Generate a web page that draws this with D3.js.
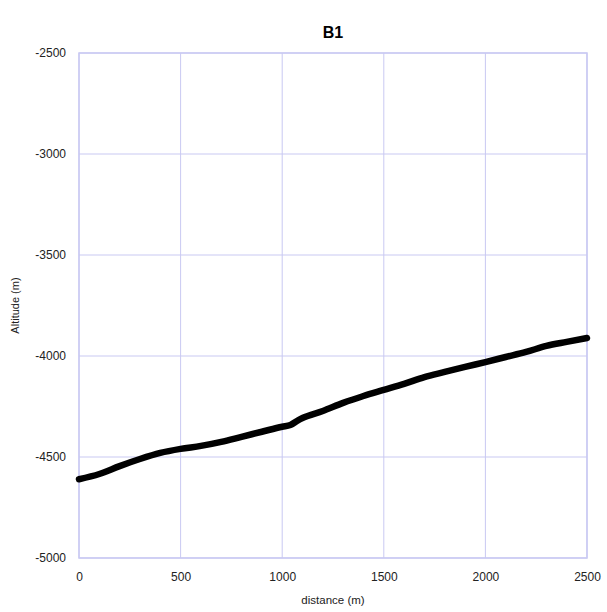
<!DOCTYPE html>
<html>
<head>
<meta charset="utf-8">
<script src="https://cdn.jsdelivr.net/npm/d3@7"></script>
<style>
  body { margin: 0; background: #fff; }
  text { font-family: "Liberation Sans", Arial, sans-serif; }
</style>
</head>
<body>
<svg id="chart" width="607" height="612"></svg>
<script>
  const distance = [0, 100, 200, 300, 400, 500, 600, 700, 800, 900, 1000, 1040, 1080, 1100,
    1200, 1300, 1400, 1500, 1600, 1700, 1800, 1900, 2000, 2100, 2200, 2300, 2400, 2500];
  const altitude = [-4610, -4584, -4545, -4510, -4480, -4460, -4445, -4425, -4400, -4375, -4350, -4342, -4317, -4307,
    -4272, -4232, -4198, -4168, -4138, -4104, -4079, -4054, -4030, -4005, -3980, -3950, -3930, -3911];
  const xTicks = [0, 500, 1000, 1500, 2000, 2500];
  const yTicks = [-5000, -4500, -4000, -3500, -3000, -2500];

  const svg = d3.select("#chart");
  const m = { left: 79, right: 587, top: 53, bottom: 558 };
  const gridColor = "#c9c9f2";
  const fmt = (d) => String(d);

  const x = d3.scaleLinear().domain([0, 2500]).range([m.left, m.right]);
  const y = d3.scaleLinear().domain([-5000, -2500]).range([m.bottom, m.top]);

  // grid
  svg.append("g").selectAll("line").data(xTicks).join("line")
    .attr("x1", (d) => x(d)).attr("x2", (d) => x(d))
    .attr("y1", m.top).attr("y2", m.bottom)
    .attr("stroke", gridColor).attr("stroke-width", 1);
  svg.append("g").selectAll("line").data(yTicks).join("line")
    .attr("x1", m.left).attr("x2", m.right)
    .attr("y1", (d) => y(d)).attr("y2", (d) => y(d))
    .attr("stroke", gridColor).attr("stroke-width", 1);

  svg.append("rect")
    .attr("x", m.left).attr("y", m.top)
    .attr("width", m.right - m.left).attr("height", m.bottom - m.top)
    .attr("fill", "none").attr("stroke", gridColor).attr("stroke-width", 1.5);

  // tick labels
  const xAxis = d3.axisBottom(x).tickValues(xTicks).tickFormat(fmt).tickSize(0).tickPadding(14);
  svg.append("g").attr("transform", `translate(0,${m.bottom})`).call(xAxis)
    .call((g) => g.select(".domain").remove())
    .selectAll("text").attr("font-size", 12).attr("fill", "#222")
    .attr("font-family", "Liberation Sans, Arial, sans-serif");

  const yAxis = d3.axisLeft(y).tickValues(yTicks).tickFormat(fmt).tickSize(0).tickPadding(13);
  svg.append("g").attr("transform", `translate(${m.left},0)`).call(yAxis)
    .call((g) => g.select(".domain").remove())
    .selectAll("text").attr("font-size", 12).attr("fill", "#222")
    .attr("font-family", "Liberation Sans, Arial, sans-serif");

  // profile line
  const pts = distance.map((d, i) => [d, altitude[i]]);
  svg.append("path")
    .datum(pts)
    .attr("fill", "none")
    .attr("stroke", "#000")
    .attr("stroke-width", 6.5)
    .attr("stroke-linejoin", "round")
    .attr("stroke-linecap", "round")
    .attr("d", d3.line().x((d) => x(d[0])).y((d) => y(d[1])).curve(d3.curveMonotoneX));

  svg.append("text")
    .attr("x", (m.left + m.right) / 2).attr("y", 38)
    .attr("text-anchor", "middle").attr("font-size", 16).attr("font-weight", "bold")
    .text("B1");

  svg.append("text")
    .attr("x", (m.left + m.right) / 2).attr("y", 604)
    .attr("text-anchor", "middle").attr("font-size", 11.5).attr("fill", "#222")
    .text("distance (m)");

  svg.append("text")
    .attr("transform", `translate(19,${(m.top + m.bottom) / 2}) rotate(-90)`)
    .attr("text-anchor", "middle").attr("font-size", 11).attr("fill", "#222")
    .text("Altitude (m)");
</script>
</body>
</html>
